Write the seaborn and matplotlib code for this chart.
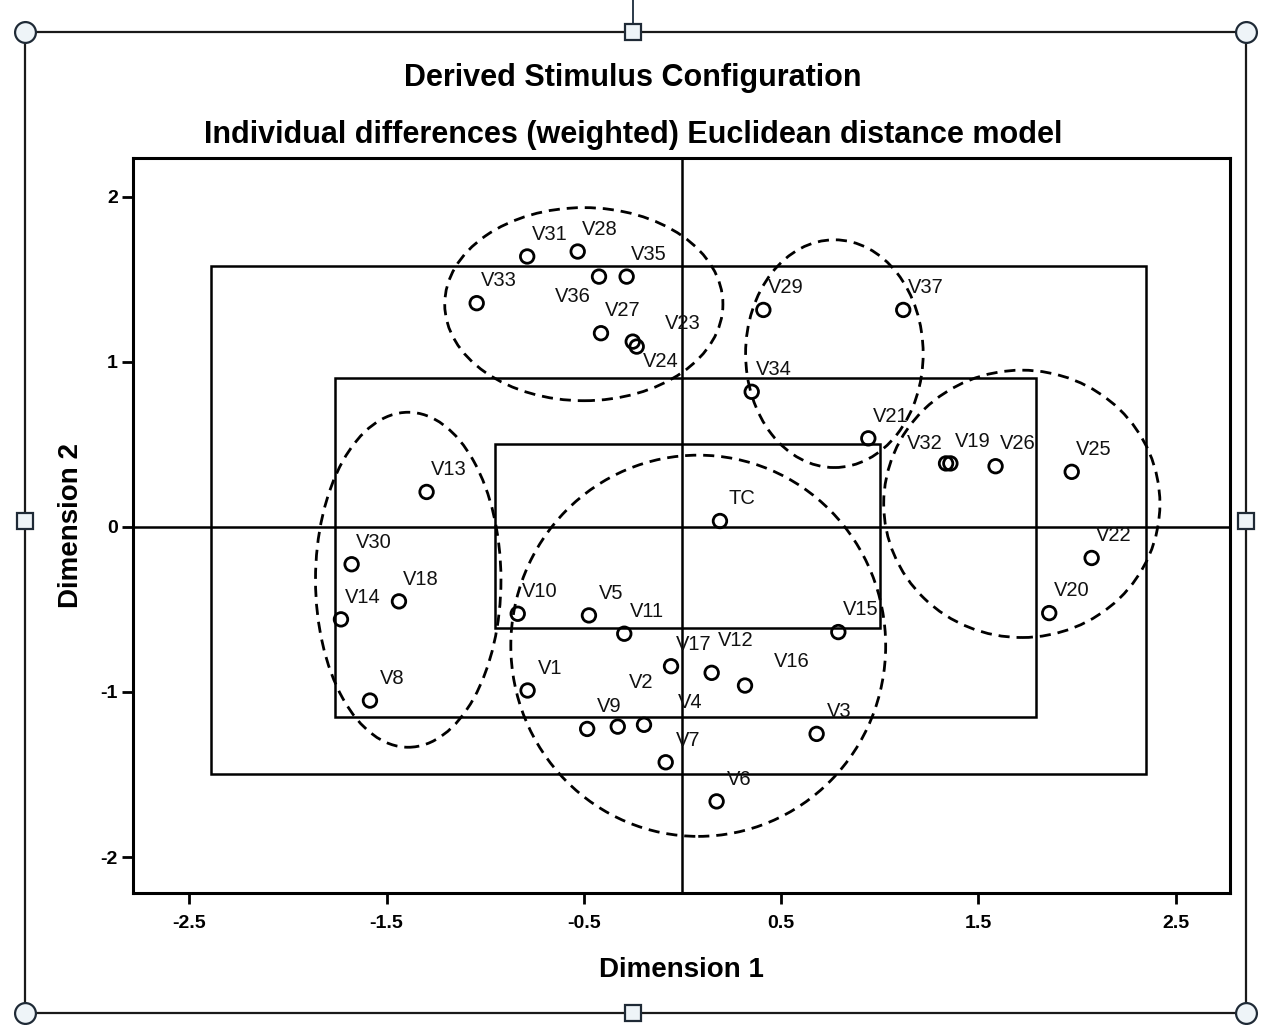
import numpy as np
import pandas as pd
import matplotlib
matplotlib.use("Agg")
import matplotlib.pyplot as plt
from matplotlib.patches import Ellipse, Rectangle
from matplotlib.lines import Line2D
import seaborn as sns

# stimulus coordinates
labels = ["V33", "V31", "V28", "V36", "V35", "V27", "V23", "V24", "V29", "V37",
          "V34", "V21", "V32", "V19", "V26", "V25", "V22", "V20", "TC", "V13",
          "V30", "V18", "V14", "V8", "V10", "V5", "V11", "V15", "V17", "V12",
          "V16", "V1", "V9", "V2", "V4", "V7", "V3", "V6"]
dim1 = [-1.043, -0.787, -0.531, -0.423, -0.283, -0.413, -0.252, -0.232, 0.410, 1.119,
        0.351, 0.942, 1.336, 1.358, 1.587, 1.973, 2.074, 1.859, 0.190, -1.297,
        -1.677, -1.437, -1.731, -1.584, -0.835, -0.474, -0.295, 0.790, -0.058, 0.148,
        0.317, -0.785, -0.483, -0.328, -0.195, -0.085, 0.680, 0.173]
dim2 = [1.356, 1.639, 1.669, 1.517, 1.517, 1.174, 1.123, 1.093, 1.315, 1.315,
        0.819, 0.537, 0.385, 0.385, 0.368, 0.334, -0.188, -0.522, 0.036, 0.212,
        -0.226, -0.451, -0.560, -1.052, -0.526, -0.536, -0.647, -0.637, -0.844, -0.884,
        -0.961, -0.991, -1.224, -1.210, -1.199, -1.426, -1.254, -1.663]

# dashed cluster outlines: centre, width, height
ell_x = [-0.50, 0.77, 1.72, -1.39, 0.08]
ell_y = [1.35, 1.05, 0.14, -0.32, -0.72]
ell_w = [1.41, 0.90, 1.40, 0.94, 1.90]
ell_h = [1.17, 1.38, 1.62, 2.03, 2.31]

# nested boxes
box_x0 = [-2.39, -1.76, -0.95]
box_x1 = [2.35, 1.79, 1.00]
box_y0 = [-1.50, -1.15, -0.61]
box_y1 = [1.58, 0.90, 0.50]

x_ticks = [-2.5, -1.5, -0.5, 0.5, 1.5, 2.5]
y_ticks = [-2, -1, 0, 1, 2]

df = pd.DataFrame({"label": labels, "Dimension 1": dim1, "Dimension 2": dim2})

sns.set_theme(style="white")
plt.rcParams["font.family"] = ["Liberation Sans", "DejaVu Sans"]
plt.rcParams["axes.unicode_minus"] = False
for key in ["text.color", "axes.labelcolor", "xtick.color", "ytick.color"]:
    plt.rcParams[key] = "black"

fig = plt.figure(figsize=(12.62, 10.25), dpi=100)
ax = fig.add_axes([0.1054, 0.1288, 0.8692, 0.7171])

ax.set_xlim(-2.785, 2.775)
ax.set_ylim(-2.218, 2.236)

# axis cross + boxes
ax.axhline(0, color="black", lw=1.8, zorder=1)
ax.axvline(0, color="black", lw=1.8, zorder=1)
for x0, x1, y0, y1 in zip(box_x0, box_x1, box_y0, box_y1):
    ax.add_patch(Rectangle((x0, y0), x1 - x0, y1 - y0, fill=False,
                           ec="black", lw=1.8, zorder=1))
for cx, cy, w, h in zip(ell_x, ell_y, ell_w, ell_h):
    ax.add_patch(Ellipse((cx, cy), w, h, fill=False, ec="black", lw=2.0,
                         ls=(0, (4, 2.5)), zorder=2))

sns.scatterplot(data=df, x="Dimension 1", y="Dimension 2", ax=ax, s=95,
                marker="o", facecolors="none", edgecolor="black",
                linewidth=2.0, zorder=3)

# labels sit up-right of the point unless moved to dodge a neighbour
nudge = {"V36": (-19, -14), "V23": (36, 13), "V24": (17, -11), "V2": (17, 32),
         "V4": (33, 16), "V16": (34, 17), "V12": (17, 23), "V32": (-15, 14)}
for lab, x, y in zip(labels, dim1, dim2):
    ax.annotate(lab, (x, y), xytext=nudge.get(lab, (16, 16)), textcoords="offset points",
                ha="center", va="center", fontsize=14.5, color="#111111", zorder=4)

ax.set_xticks(x_ticks)
ax.set_xticklabels([f"{t:.1f}" for t in x_ticks])
ax.set_yticks(y_ticks)
ax.set_yticklabels([str(t) for t in y_ticks])
ax.tick_params(axis="both", direction="out", length=8, width=2, color="black",
               labelsize=14, pad=3, bottom=True, left=True)
ax.tick_params(axis="x", pad=8)
for t in ax.get_xticklabels() + ax.get_yticklabels():
    t.set_fontweight("bold")
for sp in ax.spines.values():
    sp.set_visible(True)
    sp.set_color("black")
    sp.set_linewidth(2.2)

ax.set_xlabel("Dimension 1", fontsize=20, fontweight="bold", labelpad=18)
ax.set_ylabel("Dimension 2", fontsize=20, fontweight="bold", labelpad=12)

fig.text(0.5016, 0.924, "Derived Stimulus Configuration", ha="center", va="center",
         fontsize=22, fontweight="bold")
fig.text(0.5016, 0.868, "Individual differences (weighted) Euclidean distance model",
         ha="center", va="center", fontsize=22, fontweight="bold")

# selection frame with handles around the chart
fl, fr, fb, ft = 0.0198, 0.9873, 0.0117, 0.9688
fig.add_artist(Rectangle((fl, fb), fr - fl, ft - fb, transform=fig.transFigure,
                         fill=False, ec="#1a1a1a", lw=1.6))
fig.add_artist(Line2D([0.5016, 0.5016], [ft, 1.0], transform=fig.transFigure,
                      color="#2b3a4a", lw=1.4))
for hx, hy in [(fl, fb), (fl, ft), (fr, fb), (fr, ft)]:
    fig.add_artist(Line2D([hx], [hy], transform=fig.transFigure, marker="o",
                          markersize=15, mfc="#eef4f8", mec="#1f2a36", mew=1.6))
for hx, hy in [(0.5016, fb), (0.5016, ft), (fl, 0.4917), (fr, 0.4917)]:
    fig.add_artist(Line2D([hx], [hy], transform=fig.transFigure, marker="s",
                          markersize=11, mfc="#eef4f8", mec="#1f2a36", mew=1.6))

fig.savefig("out.png", dpi=100)
